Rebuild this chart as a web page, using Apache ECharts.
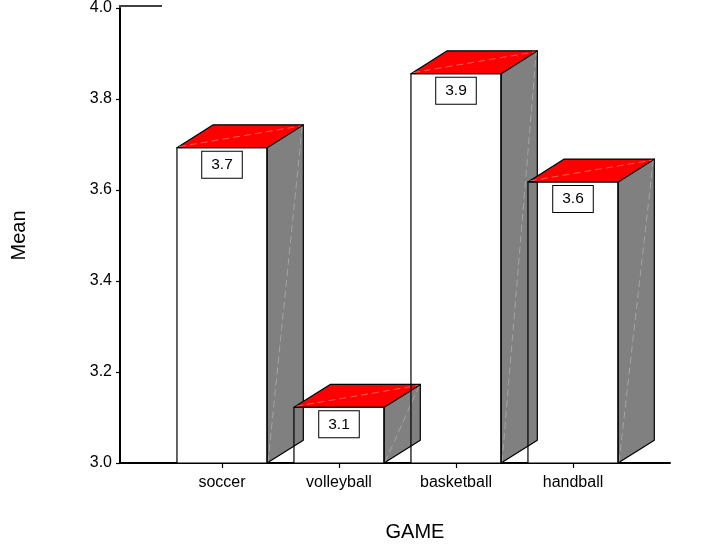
<!DOCTYPE html>
<html>
<head>
<meta charset="utf-8">
<script src="https://cdn.jsdelivr.net/npm/echarts@6/dist/echarts.min.js"></script>
<style>
  html, body { margin: 0; padding: 0; background: #fff; }
  #chart { width: 702px; height: 545px; }
</style>
</head>
<body>
<div id="chart"></div>
<script>
// Mean score per game
const games = ['soccer', 'volleyball', 'basketball', 'handball'];
const means = [3.69, 3.122, 3.852, 3.615];

// Value axis range
const yMin = 3.0;
const yMax = 4.0;
const yStep = 0.2;

const FONT = '"Liberation Sans", Arial, Helvetica, sans-serif';
const EDGE = { stroke: '#000', lineWidth: 1.2, lineJoin: 'round' };

// Box geometry of one bar, in pixels, from the axis scales
function boxOf(api) {
  const i = api.value(0);
  const v = api.value(1);
  const top = api.coord([i, v]);
  const base = api.coord([i, yMin]);
  const band = api.size([1, 0])[0];
  const fw = band * 0.77;
  const dx = band * 0.31;
  return {
    v: v,
    cx: top[0],
    L: top[0] - fw / 2,
    R: top[0] + fw / 2,
    T: top[1],
    B: base[1],
    dx: dx,
    dy: -dx * 0.63
  };
}

// White front faces (fill only)
function renderFront(params, api) {
  const b = boxOf(api);
  return {
    type: 'rect',
    shape: { x: b.L, y: b.T, width: b.R - b.L, height: b.B - b.T },
    style: { fill: '#fff' }
  };
}

// Gray side and red top faces
function renderDepth(params, api) {
  const b = boxOf(api);
  const { L, R, T, B, dx, dy } = b;
  return {
    type: 'group',
    children: [
      {
        type: 'polygon',
        shape: { points: [[R, T], [R + dx, T + dy], [R + dx, B + dy], [R, B]] },
        style: Object.assign({ fill: '#808080' }, EDGE)
      },
      {
        type: 'line',
        shape: { x1: R + 1, y1: B - 1, x2: R + dx - 1, y2: T + dy + 1 },
        style: { stroke: 'rgba(255,255,255,0.35)', lineWidth: 0.8, lineDash: [7, 4] }
      },
      {
        type: 'polygon',
        shape: { points: [[L, T], [R, T], [R + dx, T + dy], [L + dx, T + dy]] },
        style: Object.assign({ fill: '#ff0000' }, EDGE)
      },
      {
        type: 'line',
        shape: { x1: L + 2, y1: T - 1, x2: R + dx - 2, y2: T + dy + 1 },
        style: { stroke: 'rgba(255,190,190,0.6)', lineWidth: 0.8, lineDash: [7, 4] }
      }
    ]
  };
}

// Front outlines and boxed value labels
function renderOutline(params, api) {
  const b = boxOf(api);
  return {
    type: 'group',
    children: [
      {
        type: 'rect',
        shape: { x: b.L, y: b.T, width: b.R - b.L, height: b.B - b.T },
        style: Object.assign({ fill: 'none' }, EDGE)
      },
      {
        type: 'text',
        x: b.cx,
        y: b.T + 4,
        style: {
          text: b.v.toFixed(1),
          align: 'center',
          verticalAlign: 'top',
          fontFamily: FONT,
          fontSize: 15.5,
          fill: '#000',
          backgroundColor: '#fff',
          borderColor: '#000',
          borderWidth: 1,
          padding: [5, 9, 5, 9]
        }
      }
    ]
  };
}

const chart = echarts.init(document.getElementById('chart'), null, { renderer: 'canvas' });

const valueAxisBase = {
  type: 'value',
  min: yMin,
  max: yMax,
  interval: yStep,
  splitLine: { show: false }
};

const barData = games.map((g, i) => [i, means[i]]);

function barSeries(fn) {
  return {
    type: 'custom',
    xAxisIndex: 1,
    yAxisIndex: 1,
    clip: false,
    renderItem: fn,
    data: barData
  };
}

chart.setOption({
  animation: false,
  backgroundColor: '#fff',
  grid: [
    { left: 120, right: 32, top: 6, bottom: 82 },
    { left: 163.5, right: 70.5, top: 6, bottom: 82 }
  ],
  xAxis: [
    {
      gridIndex: 0,
      type: 'value',
      min: 0,
      max: 1,
      axisLine: { show: true, lineStyle: { color: '#000', width: 2 } },
      axisTick: { show: false },
      axisLabel: { show: false },
      splitLine: { show: false }
    },
    {
      gridIndex: 1,
      type: 'category',
      data: games,
      axisLine: { show: false },
      axisTick: { show: true, alignWithLabel: true, length: 5, lineStyle: { color: '#000', width: 1.2 } },
      axisLabel: { color: '#000', fontFamily: FONT, fontSize: 16, margin: 12 }
    }
  ],
  yAxis: [
    Object.assign({}, valueAxisBase, {
      gridIndex: 0,
      name: 'Mean',
      nameLocation: 'middle',
      nameGap: 91,
      nameTextStyle: { color: '#000', fontFamily: FONT, fontSize: 20 },
      axisLine: { show: true, lineStyle: { color: '#000', width: 2 } },
      axisTick: { show: true, inside: false, length: 4, lineStyle: { color: '#000', width: 1.2 } },
      axisLabel: {
        color: '#000', fontFamily: FONT, fontSize: 16, margin: 8,
        formatter: (val) => val.toFixed(1)
      }
    }),
    Object.assign({}, valueAxisBase, { gridIndex: 1, show: false })
  ],
  graphic: [
    {
      type: 'line',
      shape: { x1: 119, y1: 6, x2: 162, y2: 6 },
      style: { stroke: '#000', lineWidth: 1.5 }
    },
    {
      type: 'text',
      x: 415,
      y: 532,
      style: {
        text: 'GAME',
        align: 'center',
        verticalAlign: 'middle',
        fontFamily: FONT,
        fontSize: 20,
        fill: '#000'
      }
    }
  ],
  series: [
    barSeries(renderFront),
    barSeries(renderDepth),
    barSeries(renderOutline)
  ]
});
</script>
</body>
</html>
